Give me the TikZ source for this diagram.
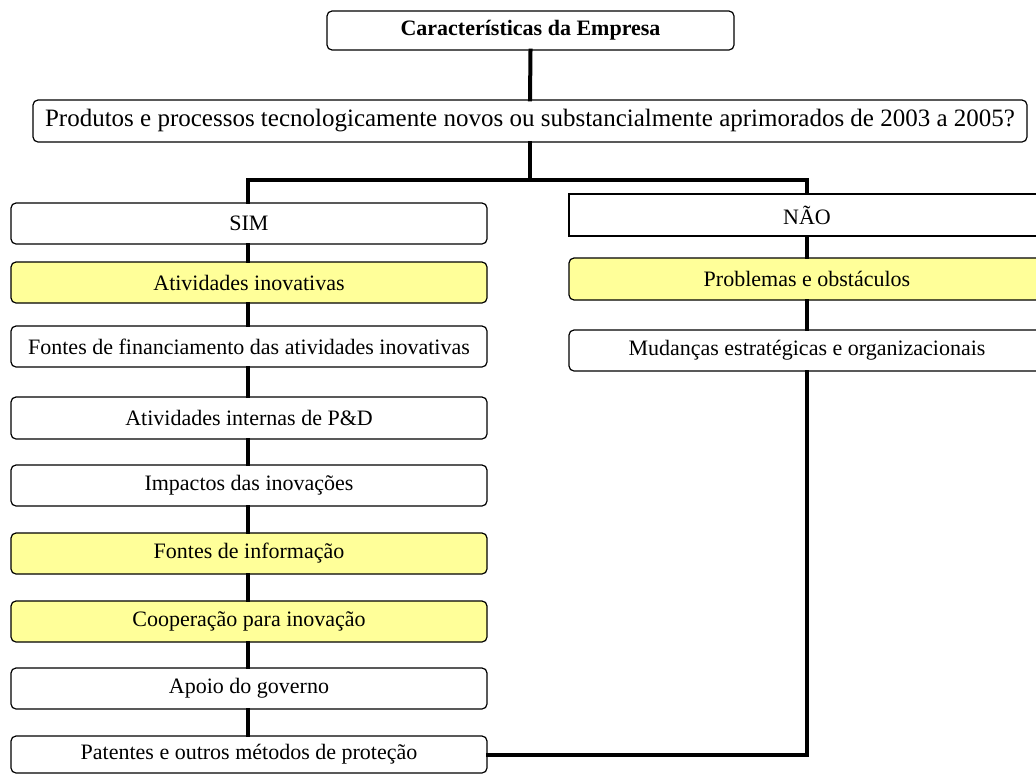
\documentclass[tikz,border=0pt]{standalone}
\usepackage{fontspec}
\setmainfont{Liberation Serif}
\definecolor{boxyellow}{RGB}{255,255,153}
\begin{document}
\begin{tikzpicture}[x=1pt,y=-1pt,
  box/.style={draw, line width=1.2pt, rounded corners=5pt, fill=white, inner sep=0pt,
    font=\fontsize{22}{26}\selectfont, anchor=center},
  ybox/.style={box, fill=boxyellow},
  lbox/.style={box, minimum width=476pt, minimum height=41pt},
  lybox/.style={ybox, minimum width=476pt, minimum height=41pt},
  conn/.style={line width=4pt, line cap=rect, line join=miter}]
\clip (0,0) rectangle (1036,774);
\fill[white] (0,0) rectangle (1036,774);
% top
\node[box, minimum width=407pt, minimum height=39pt, font=\fontsize{22}{26}\selectfont\bfseries] (top) at (530.5,30.5) {Características da Empresa};
\node[box, minimum width=994pt, minimum height=42pt, font=\fontsize{25}{29}\selectfont] (q) at (530,121) {Produtos e processos tecnologicamente novos ou substancialmente aprimorados de 2003 a 2005?};
% left column
\node[lbox] (sim) at (249,223.5) {SIM};
\node[lybox] (ativ) at (249,282.5) {Atividades inovativas};
\node[lbox] (fin) at (249,346.5) {Fontes de financiamento das atividades inovativas};
\node[lbox, minimum height=42pt] (pd) at (249,418) {Atividades internas de P\&D};
\node[lbox] (imp) at (249,485.5) {Impactos das inovações};
\node[lybox] (info) at (249,553.5) {Fontes de informação};
\node[lybox] (coop) at (249,621.5) {Cooperação para inovação};
\node[lbox] (apoio) at (249,688.5) {Apoio do governo};
\node[lbox, minimum height=37pt] (pat) at (249,754.5) {Patentes e outros métodos de proteção};
% right column
\node[lbox, rounded corners=0pt, minimum height=42pt] (nao) at (807,215) {NÃO};
\node[lybox, minimum height=42pt] (prob) at (807,279) {Problemas e obstáculos};
\node[lbox] (mud) at (807,350.5) {Mudanças estratégicas e organizacionais};
% connectors
\coordinate (jl) at (248,180);
\coordinate (jr) at (807,180);
\draw[conn] (top.south) -- (q.north);
\draw[conn] (q.south) -- (q.south |- jl);
\draw[conn] (jl |- sim.north) -- (jl) -- (jr) -- (nao.north);
\draw[conn] (sim.south -| jl) -- (ativ.north -| jl);
\draw[conn] (ativ.south -| jl) -- (fin.north -| jl);
\draw[conn] (fin.south -| jl) -- (pd.north -| jl);
\draw[conn] (pd.south -| jl) -- (imp.north -| jl);
\draw[conn] (imp.south -| jl) -- (info.north -| jl);
\draw[conn] (info.south -| jl) -- (coop.north -| jl);
\draw[conn] (coop.south -| jl) -- (apoio.north -| jl);
\draw[conn] (apoio.south -| jl) -- (pat.north -| jl);
\draw[conn] (nao.south) -- (prob.north);
\draw[conn] (prob.south) -- (mud.north);
\draw[conn] (mud.south) |- (pat.east);
\end{tikzpicture}
\end{document}
